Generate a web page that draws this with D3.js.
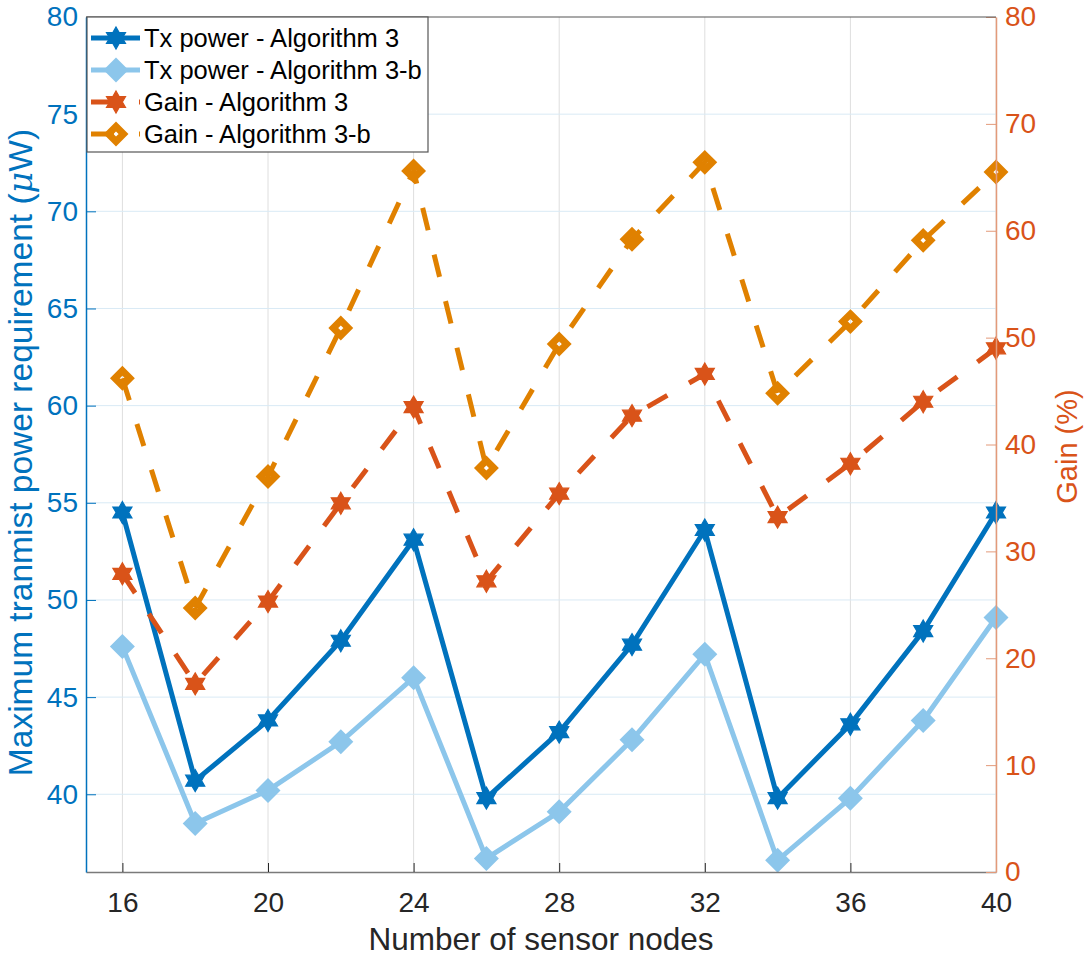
<!DOCTYPE html>
<html>
<head>
<meta charset="utf-8">
<script src="https://cdn.jsdelivr.net/npm/d3@7"></script>
<style>
  html, body { margin: 0; padding: 0; background: #ffffff; }
  svg { display: block; font-family: "Liberation Sans", Arial, Helvetica, sans-serif; }
</style>
</head>
<body>
<svg id="chart" width="1088" height="958"></svg>
<script>
// Number of sensor nodes
const nodes = [16, 18, 20, 22, 24, 26, 28, 30, 32, 34, 36, 38, 40];

// Maximum transmit power requirement (µW)
const txAlg3  = [54.5, 40.7, 43.8, 47.9, 53.1, 39.8, 43.2, 47.7, 53.6, 39.8, 43.6, 48.4, 54.5];
const txAlg3b = [47.6, 38.5, 40.2, 42.7, 46.0, 36.7, 39.1, 42.8, 47.2, 36.6, 39.8, 43.8, 49.1];

// Gain (%)
const gainAlg3  = [27.9, 17.6, 25.3, 34.5, 43.5, 27.2, 35.4, 42.7, 46.6, 33.2, 38.2, 44.0, 49.0];
const gainAlg3b = [46.2, 24.7, 37.0, 50.9, 65.6, 37.8, 49.4, 59.2, 66.4, 44.8, 51.5, 59.1, 65.5];

// Tick values
const xTicks = [16, 20, 24, 28, 32, 36, 40];
const leftTicks = [40, 45, 50, 55, 60, 65, 70, 75, 80];
const rightTicks = [0, 10, 20, 30, 40, 50, 60, 70, 80];

const seriesNames = ["Tx power - Algorithm 3", "Tx power - Algorithm 3-b", "Gain - Algorithm 3", "Gain - Algorithm 3-b"];

const C_BLUE = "#0072BD", C_LBLUE = "#8CC6EB", C_RED = "#D95319", C_ORANGE = "#E08100";

const svg = d3.select("#chart");
const L = 86, R = 996, T = 17, B = 872;

const x = d3.scaleLinear().domain([15, 40]).range([L, R]);
const yL = d3.scaleLinear().domain([36, 80]).range([B, T]);
const yR = d3.scaleLinear().domain([0, 80]).range([B, T]);

// grid
const grid = svg.append("g");
grid.selectAll("line.v").data(xTicks).join("line")
  .attr("x1", d => x(d)).attr("x2", d => x(d)).attr("y1", T).attr("y2", B)
  .attr("stroke", "#dedede").attr("stroke-width", 1);
grid.selectAll("line.h").data(leftTicks.filter(d => d < 80)).join("line")
  .attr("x1", L).attr("x2", R).attr("y1", d => yL(d)).attr("y2", d => yL(d))
  .attr("stroke", "#d9eaf5").attr("stroke-width", 1);

// marker shapes
function hexagram(r) {
  const ri = r / Math.sqrt(3);
  const pts = [];
  for (let i = 0; i < 12; i++) {
    const a = -Math.PI / 2 + i * Math.PI / 6;
    const rr = i % 2 === 0 ? r : ri;
    pts.push([rr * Math.cos(a), rr * Math.sin(a)]);
  }
  return "M" + pts.map(p => p[0].toFixed(2) + "," + p[1].toFixed(2)).join("L") + "Z";
}
function diamond(r) {
  return `M0,${-r}L${r},0L0,${r}L${-r},0Z`;
}

const series = [
  { name: seriesNames[0], vals: txAlg3,   y: yL, color: C_BLUE,   dash: null,    marker: "star" },
  { name: seriesNames[1], vals: txAlg3b,  y: yL, color: C_LBLUE,  dash: null,    marker: "diamondFilled" },
  { name: seriesNames[2], vals: gainAlg3, y: yR, color: C_RED,    dash: "23,25", marker: "star" },
  { name: seriesNames[3], vals: gainAlg3b,y: yR, color: C_ORANGE, dash: "23,25", marker: "diamondOpen" }
];

function drawMarker(g, type, color) {
  if (type === "star") {
    g.append("path").attr("d", hexagram(11)).attr("fill", color)
      .attr("stroke", color).attr("stroke-width", 1.2).attr("stroke-linejoin", "miter");
  } else if (type === "diamondFilled") {
    g.append("path").attr("d", diamond(12.5)).attr("fill", color).attr("stroke", "none");
  } else {
    g.append("path").attr("d", diamond(7.5)).attr("fill", "none")
      .attr("stroke", color).attr("stroke-width", 7).attr("stroke-linejoin", "miter");
  }
}

const plot = svg.append("g");
series.forEach(s => {
  const line = d3.line().x((d, i) => x(nodes[i])).y(d => s.y(d));
  plot.append("path").datum(s.vals).attr("d", line)
    .attr("fill", "none").attr("stroke", s.color).attr("stroke-width", 5)
    .attr("stroke-linejoin", "miter").attr("stroke-dasharray", s.dash);
  const mg = plot.append("g");
  s.vals.forEach((v, i) => {
    const g = mg.append("g").attr("transform", `translate(${x(nodes[i])},${s.y(v)})`);
    drawMarker(g, s.marker, s.color);
  });
});

// axes
const tickFont = 28;
const xAxis = d3.axisBottom(x).tickValues(xTicks).tickSizeInner(-9).tickSizeOuter(0).tickPadding(20);
const gx = svg.append("g").attr("transform", `translate(0,${B})`).call(xAxis);
gx.select(".domain").attr("stroke", "#7a7a7a").attr("stroke-width", 1.5);
gx.selectAll(".tick line").attr("stroke", "#262626");
gx.selectAll(".tick text").attr("fill", "#262626").attr("font-size", tickFont)
  .attr("font-family", "Liberation Sans, Arial, sans-serif");

const yLAxis = d3.axisLeft(yL).tickValues(leftTicks).tickSizeInner(-10).tickSizeOuter(0).tickPadding(8);
const gyl = svg.append("g").attr("transform", `translate(${L},0)`).call(yLAxis);
gyl.select(".domain").attr("stroke", C_BLUE).attr("stroke-width", 1.5);
gyl.selectAll(".tick line").attr("stroke", C_BLUE);
gyl.selectAll(".tick text").attr("fill", C_BLUE).attr("font-size", tickFont)
  .attr("font-family", "Liberation Sans, Arial, sans-serif");

const yRAxis = d3.axisRight(yR).tickValues(rightTicks).tickSizeInner(-10).tickSizeOuter(0).tickPadding(9);
const gyr = svg.append("g").attr("transform", `translate(${R},0)`).call(yRAxis);
gyr.select(".domain").attr("stroke", "#E39A7A").attr("stroke-width", 1.5);
gyr.selectAll(".tick line").attr("stroke", "#E39A7A");
gyr.selectAll(".tick text").attr("fill", C_RED).attr("font-size", tickFont)
  .attr("font-family", "Liberation Sans, Arial, sans-serif");

// top border
svg.append("line").attr("x1", L).attr("x2", R).attr("y1", T).attr("y2", T)
  .attr("stroke", "#555555").attr("stroke-width", 1.2);

// axis titles
svg.append("text").attr("x", (L + R) / 2).attr("y", 950).attr("text-anchor", "middle")
  .attr("font-size", 31.5).attr("fill", "#262626").text("Number of sensor nodes");

const ylab = svg.append("text").attr("transform", `translate(32,${(T + B) / 2 + 8}) rotate(-90)`)
  .attr("text-anchor", "middle").attr("font-size", 33.5).attr("fill", C_BLUE);
ylab.append("tspan").text("Maximum tranmist power requirement (");
ylab.append("tspan").attr("font-style", "italic").attr("font-family", "DejaVu Serif, serif").text("\u03BC");
ylab.append("tspan").text("W)");

svg.append("text").attr("transform", `translate(1077,${(T + B) / 2 + 2}) rotate(-90)`)
  .attr("text-anchor", "middle").attr("font-size", 29).attr("fill", C_RED).text("Gain (%)");

// legend
const lg = svg.append("g");
lg.append("rect").attr("x", 87).attr("y", 17).attr("width", 341).attr("height", 135)
  .attr("fill", "#ffffff").attr("stroke", "#555555").attr("stroke-width", 1.2);
const rowY = [38, 70, 102, 134];
series.forEach((s, i) => {
  const yy = rowY[i];
  lg.append("line").attr("x1", 91).attr("x2", 140).attr("y1", yy).attr("y2", yy)
    .attr("stroke", s.color).attr("stroke-width", 5).attr("stroke-dasharray", s.dash);
  const g = lg.append("g").attr("transform", `translate(116,${yy})`);
  drawMarker(g, s.marker, s.color);
  lg.append("text").attr("x", 144).attr("y", yy).attr("dy", "0.35em")
    .attr("font-size", 25.5).attr("fill", "#000000").text(s.name);
});
</script>
</body>
</html>
